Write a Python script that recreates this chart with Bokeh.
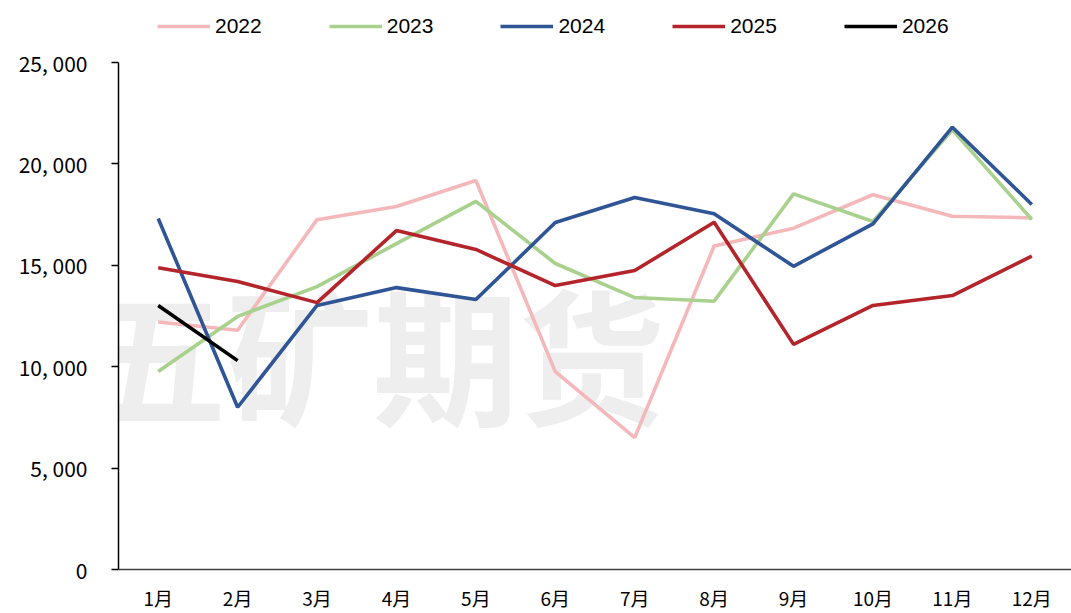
from bokeh.plotting import figure
from bokeh.models import (Legend, LegendItem, Label, CustomJSTickFormatter, FixedTicker)
from bokeh.embed import file_html
from bokeh.resources import INLINE

months = ["1月", "2月", "3月", "4月", "5月", "6月", "7月", "8月", "9月", "10月", "11月", "12月"]

y2022 = [12200, 11800, 17250, 17900, 19180, 9760, 6500, 15950, 16830, 18480, 17420, 17340]
y2023 = [9760, 12480, 13950, 16070, 18150, 15090, 13410, 13230, 18520, 17160, 21680, 17260]
y2024 = [17310, 8000, 13020, 13900, 13310, 17110, 18340, 17540, 14950, 17040, 21810, 18000]
y2025 = [14880, 14200, 13160, 16710, 15780, 14000, 14740, 17120, 11100, 13020, 13510, 15450]
y2026 = [13020, 10300]

series = [
    ("2022", y2022, "#F4B8BA"),
    ("2023", y2023, "#A9D18E"),
    ("2024", y2024, "#2F5597"),
    ("2025", y2025, "#B3252B"),
    ("2026", y2026, "#000000"),
]

y_ticks = [0, 5000, 10000, 15000, 20000, 25000]
y_max = 25000
# frame extends to the canvas top (room for the legend); axis stops at 25,000
y_top = y_max * 569 / 507

p = figure(x_range=months, y_range=(0, y_top), width=1071, height=613,
           output_backend="svg", toolbar_location=None,
           min_border_left=118, min_border_right=0, min_border_top=0, min_border_bottom=44)
p.outline_line_color = None
p.xgrid.grid_line_color = None
p.ygrid.grid_line_color = None
p.background_fill_color = "white"
p.border_fill_color = "white"

wm = Label(x=3.2, y=10800, text="五矿期货", text_font="Noto Sans CJK SC", text_font_style="bold",
           text_font_size="146px", text_color="#eeeeee", text_align="center",
           text_baseline="middle", level="underlay")
p.add_layout(wm)

items = []
for name, vals, col in series:
    r = p.line(months[:len(vals)], vals, line_color=col, line_width=3.6)
    items.append(LegendItem(label=name, renderers=[r]))

legend = Legend(items=items, orientation="horizontal", location=(39, 531),
                glyph_width=53, glyph_height=22, label_height=22, label_standoff=5,
                spacing=67, padding=0, margin=0, border_line_color=None,
                background_fill_alpha=0, label_text_font="Liberation Sans",
                label_text_font_size="21px", label_text_color="#000000")
p.add_layout(legend, "center")

# y axis
p.yaxis.ticker = FixedTicker(ticks=y_ticks)
p.yaxis.bounds = (0, y_max)
p.yaxis.formatter = CustomJSTickFormatter(code="""
    if (tick < 1000) { return String(Math.round(tick)); }
    const t = Math.floor(tick / 1000);
    const r = String(Math.round(tick % 1000)).padStart(3, "0");
    return t + ", " + r;
""")
p.yaxis.axis_line_color = "#000000"
p.yaxis.axis_line_width = 1.5
p.yaxis.major_tick_line_color = "#000000"
p.yaxis.major_tick_line_width = 1.5
p.yaxis.major_tick_out = 7
p.yaxis.major_tick_in = 0
p.yaxis.minor_tick_line_color = None
p.yaxis.major_label_standoff = 24
p.yaxis.major_label_text_font = "Noto Sans CJK SC"
p.yaxis.major_label_text_font_size = "21px"
p.yaxis.major_label_text_color = "#000000"

# x axis
p.xaxis.axis_line_color = "#404040"
p.xaxis.axis_line_width = 1.5
p.xaxis.major_tick_line_color = None
p.xaxis.minor_tick_line_color = None
p.xaxis.major_label_standoff = 8
p.xaxis.major_label_text_font = "Noto Sans CJK SC"
p.xaxis.major_label_text_font_size = "19px"
p.xaxis.major_label_text_color = "#000000"

open("out.html", "w").write(file_html(p, INLINE))
